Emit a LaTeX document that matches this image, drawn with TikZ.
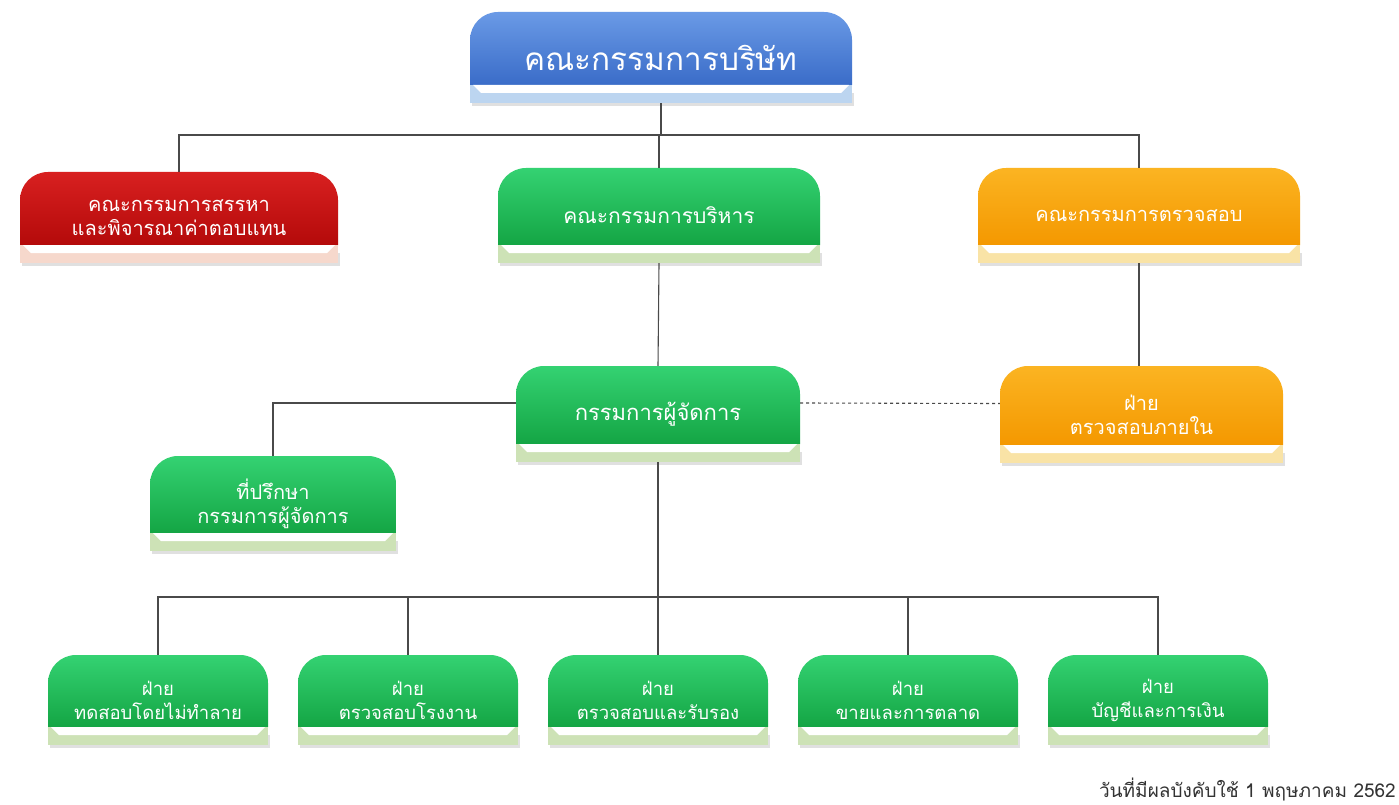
\documentclass[tikz,border=0pt]{standalone}
\usepackage{fontspec}
\newfontfamily\thai[Script=Thai]{Loma}
\usetikzlibrary{calc}
\definecolor{blTop}{HTML}{6A9AE6}
\definecolor{blBot}{HTML}{3A6CC8}
\definecolor{blStrip}{HTML}{BCD5F0}
\definecolor{rdTop}{HTML}{D82020}
\definecolor{rdBot}{HTML}{B40A0A}
\definecolor{rdStrip}{HTML}{F6D8CC}
\definecolor{grTop}{HTML}{34D272}
\definecolor{grBot}{HTML}{14A544}
\definecolor{grStrip}{HTML}{CDE2B6}
\definecolor{orTop}{HTML}{FBB422}
\definecolor{orBot}{HTML}{F49800}
\definecolor{orStrip}{HTML}{F9E3A6}
\definecolor{lineC}{HTML}{4A4A4A}
\tikzset{
  boxtxt/.style={inner sep=0pt, text=white, align=center, font=\thai\fontsize{20}{24}\selectfont},
  smalltxt/.style={font=\thai\fontsize{18.5}{24}\selectfont},
  conn/.style={draw=lineC, line width=1.1pt},
}
% #1 name, #2 x1, #3 y1, #4 x2, #5 y2, #6 colour prefix, #7 text, #8 extra node options
\newcommand\orgbox[8]{%
  \fill[black!12] (#2+2,#5-10) rectangle (#4+2,#5+3);
  \shade[top color=#6Top, bottom color=#6Bot] (#2,#5-18) [rounded corners=28pt] -- (#2,#3) -- (#4,#3) [sharp corners] -- (#4,#5-18) -- cycle;
  \fill[#6Strip] (#2,#5-18) rectangle (#4,#5);
  \fill[white] (#2+3,#5-18) -- (#4-3,#5-18) -- (#4-11,#5-10) -- (#2+11,#5-10) -- cycle;
  \node[boxtxt, minimum width={#4-#2}, minimum height={#5-#3}, #8] (#1) at ({(#2+#4)/2},{(#3+#5)/2}) {#7};
}
\begin{document}
\begin{tikzpicture}[x=1pt,y=-1pt]
\fill[white] (0,0) rectangle (1399,805);
\useasboundingbox (0,0) rectangle (1399,805);

\orgbox{board}{470}{12}{852}{103}{bl}{คณะกรรมการบริษัท}{font=\thai\fontsize{31.5}{38}\selectfont}
\orgbox{nom}{20}{172}{338}{263}{rd}{คณะกรรมการสรรหา\\และพิจารณาค่าตอบแทน}{}
\orgbox{exec}{498}{168}{820}{263}{gr}{คณะกรรมการบริหาร}{font=\thai\fontsize{21}{25}\selectfont}
\orgbox{aud}{978}{168}{1300}{263}{or}{คณะกรรมการตรวจสอบ}{}
\orgbox{md}{516}{366}{800}{462}{gr}{กรรมการผู้จัดการ}{font=\thai\fontsize{22}{26}\selectfont}
\orgbox{ia}{1000}{366}{1283}{463}{or}{ฝ่าย\\ตรวจสอบภายใน}{}
\orgbox{adv}{150}{456}{396}{551}{gr}{ที่ปรึกษา\\กรรมการผู้จัดการ}{}
\orgbox{d1}{48}{655}{268}{745}{gr}{ฝ่าย\\ทดสอบโดยไม่ทำลาย}{smalltxt}
\orgbox{d2}{298}{655}{518}{745}{gr}{ฝ่าย\\ตรวจสอบโรงงาน}{smalltxt}
\orgbox{d3}{548}{655}{768}{745}{gr}{ฝ่าย\\ตรวจสอบและรับรอง}{smalltxt}
\orgbox{d4}{798}{655}{1018}{745}{gr}{ฝ่าย\\ขายและการตลาด}{smalltxt}
\orgbox{d5}{1048}{655}{1268}{745}{gr}{ฝ่าย\\บัญชีและการเงิน}{smalltxt}

\coordinate (bus1) at (661,135);
\coordinate (bus2) at (658,597);
\draw[conn] (board.south) -- (board.south |- bus1);
\draw[conn] (nom.north) -- (nom.north |- bus1) -- (aud.north |- bus1) -- (aud.north);
\draw[conn] (exec.north) -- (exec.north |- bus1);
\draw[conn] (exec.south) -- (md.north);
\draw[conn] (aud.south) -- (aud.south |- ia.north);
\draw[conn] ($(md.west)+(0,-11)$) -| (adv.north);
\draw[conn, dashed] ($(md.east)+(0,-11)$) -- ($(ia.west)+(0,-11)$);
\draw[conn] (md.south) -- (md.south |- bus2);
\draw[conn] (d1.north) -- (d1.north |- bus2) -- (d5.north |- bus2) -- (d5.north);
\draw[conn] (d2.north) -- (d2.north |- bus2);
\draw[conn] (d3.north) -- (d3.north |- bus2);
\draw[conn] (d4.north) -- (d4.north |- bus2);

\node[anchor=east, text=black!80, font=\thai\fontsize{19}{22}\selectfont, inner sep=0pt] (date) at (1396,789) {วันที่มีผลบังคับใช้ 1 พฤษภาคม 2562};
\end{tikzpicture}
\end{document}
